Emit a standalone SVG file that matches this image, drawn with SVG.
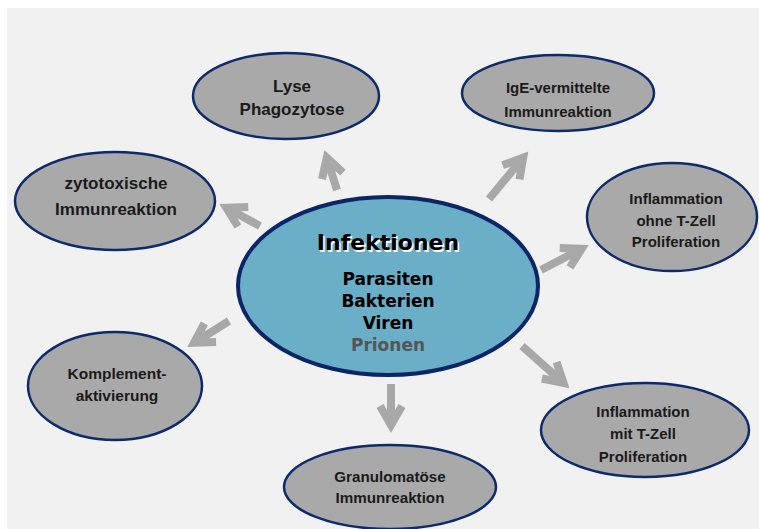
<svg xmlns="http://www.w3.org/2000/svg" width="759" height="529" viewBox="0 0 759 529">
<style>
.outer{fill:#a9a9a9;stroke:#0d2a6b;stroke-width:2.5}
.center{fill:#6aaec8;stroke:#0b2566;stroke-width:4}
.lbl{font-family:"Liberation Sans",Arial,sans-serif;font-weight:bold;fill:#1a1a1a;text-anchor:middle}
.ctr{font-family:"DejaVu Sans","Liberation Sans",sans-serif;font-weight:bold;text-anchor:middle}
.arr{fill:none;stroke:#a8a8a8;stroke-width:8;stroke-linejoin:miter;stroke-linecap:butt}
</style>
<rect x="0" y="0" width="759" height="529" fill="#ffffff"/>
<rect x="7" y="8" width="752" height="521" fill="#f1f1f1"/>
<g id="connectors">
<path class="arr" d="M337,190 L326.8,157.7 M322,179.2 L326.8,157.7 L343,172.6"/>
<path class="arr" d="M489,199 L523.2,157.6 M502.6,165.3 L523.2,157.6 L519.5,179.3"/>
<path class="arr" d="M260,226 L226.3,207.8 M237.9,226.5 L226.3,207.8 L248.3,207.1"/>
<path class="arr" d="M541,270 L581.7,248.8 M559.7,247.9 L581.7,248.8 L569.9,267.3"/>
<path class="arr" d="M229,321 L194.1,342.8 M216.1,342 L194.1,342.8 L204.4,323.4"/>
<path class="arr" d="M522,346 L563.5,383 M556.6,362.1 L563.5,383 L541.9,378.5"/>
<path class="arr" d="M391,384 L391,425 M402,406 L391,425 L380,406"/>
</g>
<g id="lyse">
<ellipse class="outer" cx="286" cy="96" rx="93" ry="43"/>
<text class="lbl" x="292" y="92" font-size="17">Lyse</text>
<text class="lbl" x="292" y="115" font-size="17">Phagozytose</text>
</g>
<g id="ige">
<ellipse class="outer" cx="558" cy="93" rx="96" ry="38"/>
<text class="lbl" x="558" y="93" font-size="15">IgE-vermittelte</text>
<text class="lbl" x="558" y="117" font-size="15">Immunreaktion</text>
</g>
<g id="zytotox">
<ellipse class="outer" cx="115" cy="201" rx="100" ry="49"/>
<text class="lbl" x="116" y="189" font-size="17">zytotoxische</text>
<text class="lbl" x="116" y="215" font-size="17">Immunreaktion</text>
</g>
<g id="ohne">
<ellipse class="outer" cx="672" cy="217" rx="85" ry="54"/>
<text class="lbl" x="676" y="204" font-size="15">Inflammation</text>
<text class="lbl" x="676" y="226" font-size="15">ohne T-Zell</text>
<text class="lbl" x="676" y="247" font-size="15">Proliferation</text>
</g>
<g id="komplement">
<ellipse class="outer" cx="115" cy="386" rx="87" ry="54"/>
<text class="lbl" x="117" y="379" font-size="15.5">Komplement-</text>
<text class="lbl" x="117" y="401" font-size="15.5">aktivierung</text>
</g>
<g id="mit">
<ellipse class="outer" cx="645" cy="430" rx="104" ry="47"/>
<text class="lbl" x="643" y="417" font-size="15">Inflammation</text>
<text class="lbl" x="643" y="439" font-size="15">mit T-Zell</text>
<text class="lbl" x="643" y="462" font-size="15">Proliferation</text>
</g>
<g id="granulomatoese">
<ellipse class="outer" cx="390" cy="487" rx="106" ry="42"/>
<text class="lbl" x="390" y="482" font-size="15.2">Granulomatöse</text>
<text class="lbl" x="390" y="503" font-size="15.2">Immunreaktion</text>
</g>
<g id="infektionen">
<ellipse class="center" cx="388" cy="286" rx="150" ry="89"/>
<text class="ctr" x="389.5" y="251.5" font-size="22" fill="#ffffff">Infektionen</text>
<text class="ctr" x="388" y="250" font-size="22" fill="#000000">Infektionen</text>
<text class="ctr" x="388" y="285" font-size="17" fill="#000000">Parasiten</text>
<text class="ctr" x="388" y="307" font-size="17" fill="#000000">Bakterien</text>
<text class="ctr" x="388" y="329" font-size="17" fill="#000000">Viren</text>
<text class="ctr" x="388" y="351" font-size="17" fill="#555555">Prionen</text>
</g>
</svg>
